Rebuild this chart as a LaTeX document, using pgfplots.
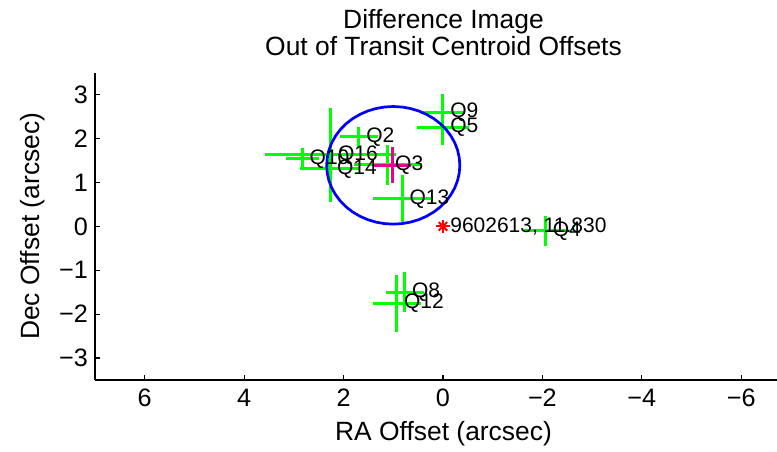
\documentclass[border=0pt]{standalone}
\usepackage{pgfplots}
\pgfplotsset{compat=1.18}
\usepackage{pgfplotstable}
\usepackage{fontspec}
\setmainfont{Liberation Sans}

\pgfplotstableread{
label x y ex ey
Q2 1.69 2.04 0.39 0.23
Q3 1.11 1.40 0.68 0.45
Q4 -2.06 -0.10 0.42 0.34
Q5 0.00 2.26 0.52 0.41
Q8 0.77 -1.50 0.38 0.45
Q9 0.00 2.59 0.45 0.43
Q10 2.83 1.54 0.33 0.25
Q12 0.93 -1.75 0.48 0.65
Q13 0.82 0.63 0.59 0.54
Q14 2.28 1.31 0.60 0.30
Q16 2.26 1.63 1.31 1.07
}\quarters

\pgfplotstableread{
x y
2.340 1.390
2.328 1.565
2.294 1.737
2.238 1.903
2.160 2.060
2.063 2.206
1.948 2.338
1.816 2.453
1.670 2.550
1.513 2.628
1.347 2.684
1.175 2.718
1.000 2.730
0.825 2.718
0.653 2.684
0.487 2.628
0.330 2.550
0.184 2.453
0.052 2.338
-0.063 2.206
-0.160 2.060
-0.238 1.903
-0.294 1.737
-0.328 1.565
-0.340 1.390
-0.328 1.215
-0.294 1.043
-0.238 0.877
-0.160 0.720
-0.063 0.574
0.052 0.442
0.184 0.327
0.330 0.230
0.487 0.152
0.653 0.096
0.825 0.062
1.000 0.050
1.175 0.062
1.347 0.096
1.513 0.152
1.670 0.230
1.816 0.327
1.948 0.442
2.063 0.574
2.160 0.720
2.238 0.877
2.294 1.043
2.328 1.215
2.340 1.390
}\circdata

\begin{document}
\begin{tikzpicture}
\begin{axis}[name=ax, scale only axis, width=341pt, height=153.65pt,
  x dir=reverse, xmin=-6.72, xmax=7, ymin=-3.5, ymax=3.5,
  axis x line*=bottom, axis y line*=left,
  axis line style={line width=0.8pt, black},
  xtick={-6,-4,-2,0,2,4,6}, xticklabels={−6,−4,−2,0,2,4,6},
  ytick={-3,-2,-1,0,1,2,3}, yticklabels={−3,−2,−1,0,1,2,3},
  tick align=inside, major tick length=2.5pt,
  tick style={line width=0.6pt, black},
  ticklabel style={font=\fontsize{12.6}{14}\selectfont},
  xticklabel style={yshift=-1pt},
  xlabel={RA Offset (arcsec)}, ylabel={Dec Offset (arcsec)},
  label style={font=\fontsize{13.2}{15}\selectfont},
  xlabel style={at={(axis description cs:0.511,-0.1985)}, anchor=base, inner sep=0pt},
  ylabel style={at={(axis description cs:-0.0733,0.5)}, anchor=south, inner sep=0pt},
  title={Difference Image\\Out of Transit Centroid Offsets},
  title style={font=\fontsize{13.2}{13.4}\selectfont, align=center,
    at={(axis description cs:0.511,1)}, anchor=south, inner sep=0pt, yshift=2.3pt},
  clip=false,
]
\addplot[draw=none, mark=none, forget plot,
  error bars/.cd, x dir=both, x explicit, y dir=both, y explicit, error mark=none,
  error bar style={draw=green, line width=1.5pt}]
  table[x=x, y=y, x error=ex, y error=ey]{\quarters};
\addplot[draw=none, mark=none, forget plot,
  error bars/.cd, x dir=both, x explicit, y dir=both, y explicit, error mark=none,
  error bar style={draw=magenta, line width=1.5pt}]
  coordinates {(1.02,1.39) +- (0.38,0.41)};
\addplot[blue, line width=1.35pt, mark=none] table[x=x, y=y]{\circdata};
\addplot[red, only marks, mark=+, mark size=3.3pt, line width=1pt] coordinates {(0,0)};
\addplot[red, only marks, mark=x, mark size=3.0pt, line width=1pt] coordinates {(0,0)};
\addplot[draw=none, mark=none, nodes near coords, point meta=explicit symbolic,
  nodes near coords align={anchor=west},
  every node near coord/.append style={font=\fontsize{10.5}{12}\selectfont, inner sep=0pt, anchor=west, xshift=3.5pt, text=black}]
  table[x=x, y=y, meta=label]{\quarters};
\node[anchor=west, inner sep=0pt, xshift=3.5pt, font=\fontsize{10.5}{12}\selectfont] at (axis cs:0,0) {9602613, 11.830};
\end{axis}
\pgfresetboundingbox
\path ([xshift=-47.5pt,yshift=-36pt]ax.south west) rectangle ([yshift=36.35pt]ax.north east);
\end{tikzpicture}
\end{document}
